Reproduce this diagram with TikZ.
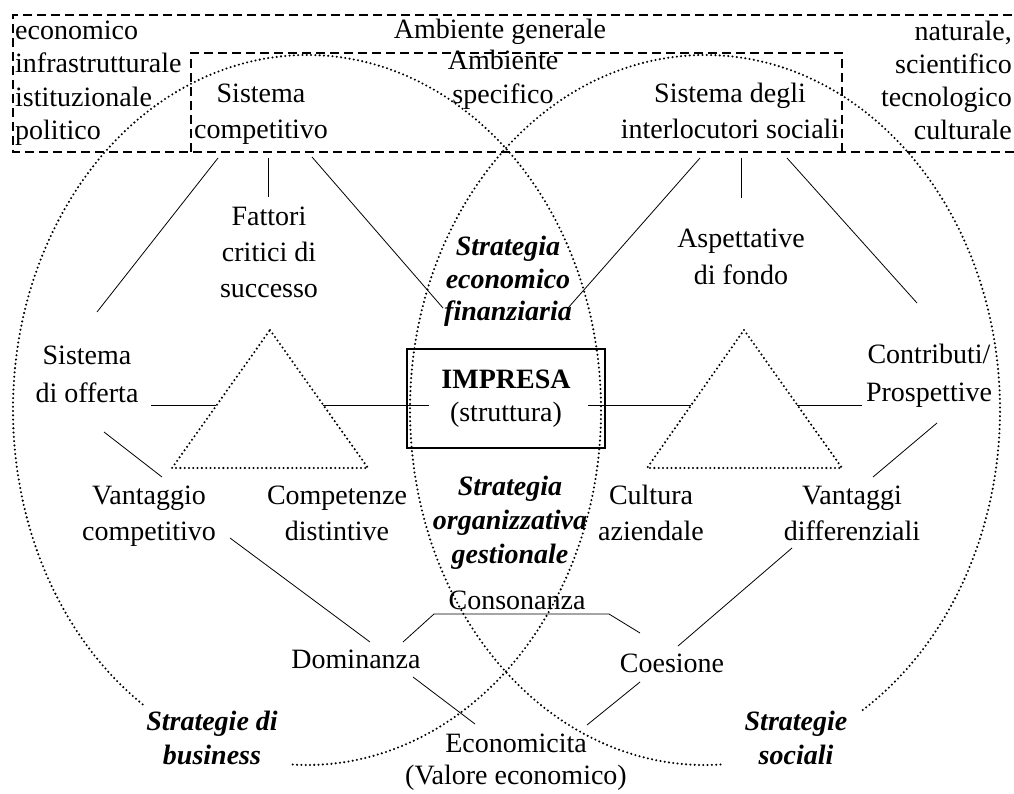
\documentclass[tikz,border=0pt]{standalone}
\usepackage{fontspec}
\setmainfont{Liberation Serif}
% line strut: 21pt above the baseline, 7pt below
\newcommand\lnstrut{\rule[-7pt]{0pt}{28pt}}
\begin{document}
\begin{tikzpicture}[x=1pt,y=-1pt,
  txt/.style={inner sep=0pt, align=center, font=\fontsize{28}{36}\selectfont},
  bi/.style={txt, font=\fontsize{28}{33}\selectfont\bfseries\itshape},
  dotline/.style={line width=2.3pt, dash pattern=on 0pt off 4.3pt, line cap=round},
  dashbox/.style={line width=1.8pt, dash pattern=on 9pt off 5pt},
  link/.style={line width=0.8pt},
  framebox/.style={txt, draw, line width=2pt, minimum width=198pt, minimum height=99pt}]

\useasboundingbox[fill=white] (0,0) rectangle (1014,794);

% environment frames
\draw[dashbox] (1040,15) -- (13,15) -- (13,152) -- (1040,152);
\draw[dashbox] (191,152) -- (191,53) -- (842,53) -- (842,152);

% strategy areas
\draw[dotline] (307,410) ++(124:294 and 355)
  arc[start angle=124, end angle=453, x radius=294, y radius=355];
\draw[dotline] (705,410) ++(87:295 and 355)
  arc[start angle=87, end angle=418, x radius=295, y radius=355];

% triangles
\draw[dotline] (270,330) -- (368,468) -- (172,468) -- cycle;
\draw[dotline] (744,330) -- (842,468) -- (647,468) -- cycle;

% texts
\node[txt] (gen) at (500,32) {\lnstrut Ambiente generale};
\node[txt, anchor=west, align=left, font=\fontsize{28}{33.3}\selectfont] (genL) at (15,82.5)
  {\lnstrut economico\\\lnstrut infrastrutturale\\\lnstrut istituzionale\\\lnstrut politico};
\node[txt, anchor=east, align=right, font=\fontsize{28}{33.3}\selectfont] (genR) at (1012,83)
  {\lnstrut naturale,\\\lnstrut scientifico\\\lnstrut tecnologico\\\lnstrut culturale};
\node[txt, font=\fontsize{28}{34}\selectfont] (spec) at (503,80) {\lnstrut Ambiente\\\lnstrut specifico};
\node[txt] (comp) at (261,114) {\lnstrut Sistema\\\lnstrut competitivo};
\node[txt] (soc) at (730,114) {\lnstrut Sistema degli\\\lnstrut interlocutori sociali};
\node[txt] (fcs) at (269,255) {\lnstrut Fattori\\\lnstrut critici di\\\lnstrut successo};
\node[txt] (asp) at (741,259) {\lnstrut Aspettative\\\lnstrut di fondo};
\node[bi, font=\fontsize{28}{32.5}\selectfont\bfseries\itshape] (sef) at (508,281)
  {\lnstrut Strategia\\\lnstrut economico\\\lnstrut finanziaria};
\node[framebox, font=\fontsize{28}{33}\selectfont] (imp) at (506,398)
  {\lnstrut\textbf{IMPRESA}\\\lnstrut(struttura)};
\node[bi, font=\fontsize{28}{34}\selectfont\bfseries\itshape] (sog) at (510,522)
  {\lnstrut Strategia\\\lnstrut organizzativa\\\lnstrut gestionale};
\node[txt, font=\fontsize{28}{38}\selectfont] (off) at (87,376) {\lnstrut Sistema\\\lnstrut di offerta};
\node[txt, font=\fontsize{28}{38}\selectfont] (pro) at (929,375) {\lnstrut Contributi/\\\lnstrut Prospettive};
\node[txt] (vc) at (149,515) {\lnstrut Vantaggio\\\lnstrut competitivo};
\node[txt] (cd) at (337,515) {\lnstrut Competenze\\\lnstrut distintive};
\node[txt] (ca) at (651,515) {\lnstrut Cultura\\\lnstrut aziendale};
\node[txt] (vd) at (852,515) {\lnstrut Vantaggi\\\lnstrut differenziali};
\node[txt] (cons) at (517,602) {\lnstrut Consonanza};
\node[txt] (dom) at (356,661) {\lnstrut Dominanza};
\node[txt] (coe) at (672,665) {\lnstrut Coesione};
\node[txt, font=\fontsize{28}{32}\selectfont] (eco) at (516,761)
  {\lnstrut Economicita\\\lnstrut (Valore economico)};
\node[bi, font=\fontsize{28}{34}\selectfont\bfseries\itshape] (sb) at (212,740)
  {\lnstrut Strategie di\\\lnstrut business};
\node[bi, font=\fontsize{28}{34}\selectfont\bfseries\itshape] (ss) at (796,740)
  {\lnstrut Strategie\\\lnstrut sociali};

% connector end points
\coordinate (compA) at (218,158); \coordinate (offN) at (97,312);
\coordinate (compB) at (268,158); \coordinate (fcsN) at (268,197);
\coordinate (compC) at (312,157); \coordinate (sefL) at (443,308);
\coordinate (socA) at (700,158);  \coordinate (sefR) at (568,308);
\coordinate (socB) at (741,158);  \coordinate (aspN) at (741,198);
\coordinate (socC) at (787,158);  \coordinate (proN) at (917,303);
\coordinate (offE) at (151,405);  \coordinate (triLW) at (216,405);
\coordinate (triLE) at (323,405); \coordinate (impW) at (429,405);
\coordinate (impE) at (588,405);  \coordinate (triRW) at (691,405);
\coordinate (triRE) at (797,405); \coordinate (proW) at (862,405);
\coordinate (offS) at (104,432);  \coordinate (vcN) at (162,477);
\coordinate (proS) at (937,423);  \coordinate (vdN) at (873,477);
\coordinate (vcS) at (230,538);   \coordinate (domN) at (370,642);
\coordinate (vdS) at (792,548);   \coordinate (coeN) at (678,646);
\coordinate (domNE) at (403,642); \coordinate (consL) at (434,614);
\coordinate (consR) at (609,614); \coordinate (coeNW) at (640,633);
\coordinate (domS) at (413,677);  \coordinate (ecoNW) at (475,724);
\coordinate (coeS) at (640,682);  \coordinate (ecoNE) at (587,725);

% connectors
\draw[link] (compA) -- (offN);
\draw[link] (compB) -- (fcsN);
\draw[link] (compC) -- (sefL);
\draw[link] (socA) -- (sefR);
\draw[link] (socB) -- (aspN);
\draw[link] (socC) -- (proN);
\draw[link] (offE) -- (triLW);
\draw[link] (triLE) -- (impW);
\draw[link] (impE) -- (triRW);
\draw[link] (triRE) -- (proW);
\draw[link] (offS) -- (vcN);
\draw[link] (proS) -- (vdN);
\draw[link] (vcS) -- (domN);
\draw[link] (vdS) -- (coeN);
\draw[link] (domNE) -- (consL) -- (consR) -- (coeNW);
\draw[link] (domS) -- (ecoNW);
\draw[link] (coeS) -- (ecoNE);
\end{tikzpicture}
\end{document}
